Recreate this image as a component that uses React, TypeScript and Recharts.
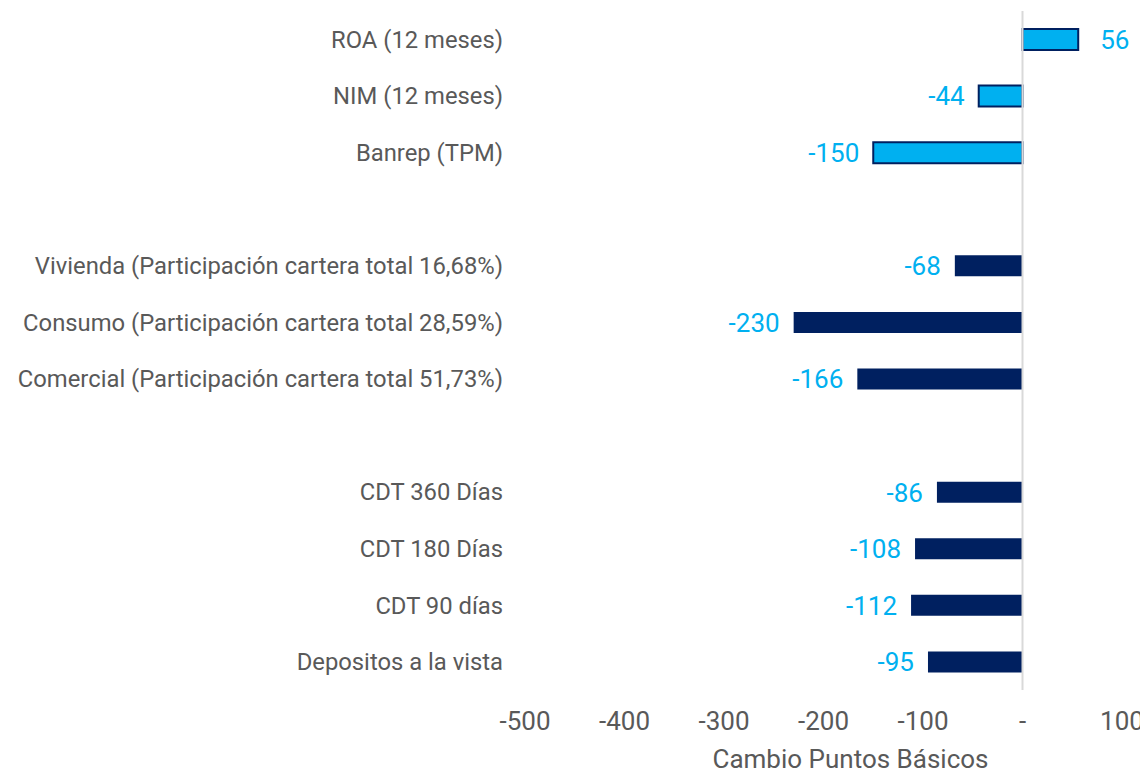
import { BarChart, Bar, XAxis, YAxis, Cell, LabelList, ReferenceLine } from 'recharts';

const categories = [
  'ROA (12 meses)',
  'NIM (12 meses)',
  'Banrep (TPM)',
  '',
  'Vivienda (Participación cartera total 16,68%)',
  'Consumo (Participación cartera total 28,59%)',
  'Comercial (Participación cartera total 51,73%)',
  '',
  'CDT 360 Días',
  'CDT 180 Días',
  'CDT 90 días',
  'Depositos a la vista',
];
const changes: (number | null)[] = [56, -44, -150, null, -68, -230, -166, null, -86, -108, -112, -95];
const highlighted = [true, true, true, false, false, false, false, false, false, false, false, false];
const xTicks = [-500, -400, -300, -200, -100, 0, 100];

const data = categories.map((name, i) => ({ name, value: changes[i], light: highlighted[i] }));

const FONT = 'Roboto, sans-serif';
const GREY = '#595959';
const NAVY = '#002060';
const LIGHT = '#00B0F0';

const ValueLabel = (props: any) => {
  const { x, y, width, height, value } = props;
  if (value === null || value === undefined) return null;
  const left = Math.min(x, x + width);
  const right = Math.max(x, x + width);
  const neg = value < 0;
  return (
    <text
      x={neg ? left - 14 : right + 22}
      y={y + height / 2}
      dy="0.36em"
      textAnchor={neg ? 'end' : 'start'}
      fill={LIGHT}
      fontSize={26}
      fontFamily={FONT}
    >
      {value}
    </text>
  );
};

const App = () => {
  return (
    <div style={{ fontFamily: FONT }}>
      <BarChart
        width={1140}
        height={767}
        data={data}
        layout="vertical"
        margin={{ top: 3, right: 26, bottom: 0, left: 0 }}
        barSize={21}
      >
        <XAxis
          type="number"
          domain={[-500, 100]}
          ticks={xTicks}
          axisLine={false}
          tickLine={false}
          tickSize={0}
          tickMargin={22}
          height={85}
          interval={0}
          tickFormatter={(v: number) => (v === 0 ? '-' : String(v))}
          tick={{ fontSize: 26, fill: GREY, fontFamily: FONT }}
          label={{ value: 'Cambio Puntos Básicos', position: 'insideBottom', offset: 7, dx: 27, fontSize: 26, fill: GREY, fontFamily: FONT }}
        />
        <YAxis
          type="category"
          dataKey="name"
          width={517}
          axisLine={false}
          tickLine={false}
          tickSize={0}
          tickMargin={22}
          interval={0}
          tick={{ fontSize: 23.8, fill: GREY, fontFamily: FONT }}
        />
        <ReferenceLine x={0} stroke="#d9d9d9" strokeWidth={2} />
        <Bar dataKey="value" isAnimationActive={false}>
          {data.map((d, i) => (
            <Cell
              key={i}
              fill={d.light ? LIGHT : NAVY}
              stroke={d.light ? NAVY : 'none'}
              strokeWidth={d.light ? 2 : 0}
            />
          ))}
          <LabelList dataKey="value" content={ValueLabel} />
        </Bar>
      </BarChart>
    </div>
  );
};

export default App;
